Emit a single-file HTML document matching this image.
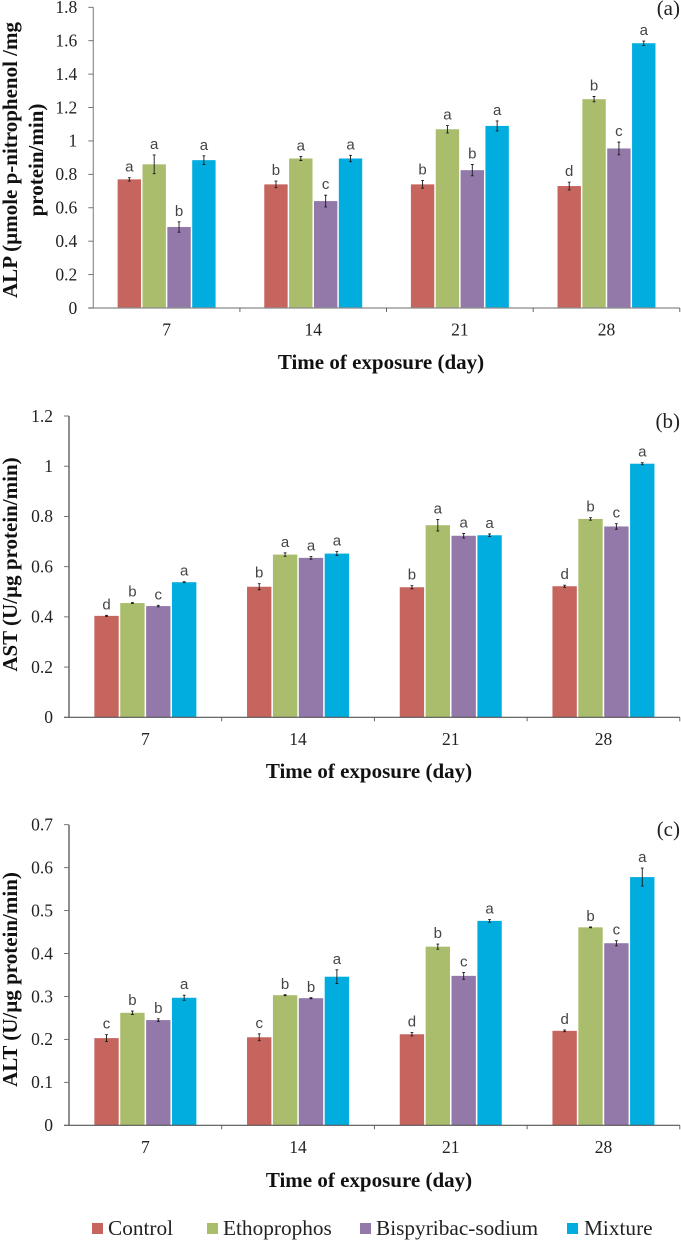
<!DOCTYPE html>
<html lang="en">
<head>
<meta charset="utf-8">
<title>Enzyme activity over time of exposure</title>
<style>
html,body{margin:0;padding:0;background:#fff;}
#stage{display:block;width:681px;height:1241px;}
text{font-family:"Liberation Serif",serif;fill:#222;}
.tick{font-size:17.5px;}
.axis-title{font-size:21px;font-weight:bold;fill:#111;}
.letter{font-family:"Liberation Sans",sans-serif;font-size:15px;fill:#444;text-anchor:middle;}
.panel{font-size:21px;}
.legend{font-size:21.3px;fill:#222;}
</style>
</head>
<body>
<svg id="stage" width="681" height="1241" viewBox="0 0 681 1241" xmlns="http://www.w3.org/2000/svg">
  <g id="chart-a"></g>
  <g id="chart-b"></g>
  <g id="chart-c"></g>

  <text class="axis-title" transform="translate(17,160) rotate(-90)" text-anchor="middle">ALP (µmole p-nitrophenol /mg</text>
  <text class="axis-title" transform="translate(43,160) rotate(-90)" text-anchor="middle">protein/min)</text>
  <text class="axis-title" x="381" y="369" text-anchor="middle">Time of exposure (day)</text>
  <text class="panel" x="680" y="15" text-anchor="end">(a)</text>

  <text class="axis-title" transform="translate(17,564.5) rotate(-90)" text-anchor="middle">AST (U/µg protein/min)</text>
  <text class="axis-title" x="369" y="778" text-anchor="middle">Time of exposure (day)</text>
  <text class="panel" x="680" y="428" text-anchor="end">(b)</text>

  <text class="axis-title" transform="translate(17,979.5) rotate(-90)" text-anchor="middle">ALT (U/µg protein/min)</text>
  <text class="axis-title" x="369" y="1187" text-anchor="middle">Time of exposure (day)</text>
  <text class="panel" x="680" y="836" text-anchor="end">(c)</text>

  <g>
    <rect x="92" y="1223" width="11" height="11" fill="#C6645E"/>
    <text class="legend" x="108" y="1235">Control</text>
    <rect x="207" y="1223" width="11" height="11" fill="#AABD6C"/>
    <text class="legend" x="223" y="1235">Ethoprophos</text>
    <rect x="360" y="1223" width="11" height="11" fill="#9279AA"/>
    <text class="legend" x="376" y="1235">Bispyribac-sodium</text>
    <rect x="567" y="1223" width="11" height="11" fill="#00ADDE"/>
    <text class="legend" x="584" y="1235">Mixture</text>
  </g>
</svg>
<script>
var categories = ['7', '14', '21', '28'];
var seriesNames = ['control', 'ethoprophos', 'bispyribac-sodium', 'mixture'];
var seriesColors = ['#C6645E', '#AABD6C', '#9279AA', '#00ADDE'];

var alpTicks = [0, 0.2, 0.4, 0.6, 0.8, 1, 1.2, 1.4, 1.6, 1.8];
var alpControl = [0.77, 0.74, 0.74, 0.73];
var alpEthoprophos = [0.86, 0.895, 1.07, 1.25];
var alpBispyribac = [0.485, 0.64, 0.825, 0.955];
var alpMixture = [0.885, 0.895, 1.09, 1.585];
var alpControlErr = [0.01, 0.02, 0.023, 0.023];
var alpEthoprophosErr = [0.056, 0.012, 0.022, 0.016];
var alpBispyribacErr = [0.031, 0.035, 0.034, 0.038];
var alpMixtureErr = [0.026, 0.019, 0.03, 0.013];
var alpControlLetters = ['a', 'b', 'b', 'd'];
var alpEthoprophosLetters = ['a', 'a', 'a', 'b'];
var alpBispyribacLetters = ['b', 'c', 'b', 'c'];
var alpMixtureLetters = ['a', 'a', 'a', 'a'];

var astTicks = [0, 0.2, 0.4, 0.6, 0.8, 1, 1.2];
var astControl = [0.404, 0.52, 0.518, 0.522];
var astEthoprophos = [0.455, 0.648, 0.765, 0.79];
var astBispyribac = [0.443, 0.635, 0.723, 0.76];
var astMixture = [0.538, 0.652, 0.725, 1.01];
var astControlErr = [0.002, 0.012, 0.006, 0.004];
var astEthoprophosErr = [0.002, 0.007, 0.023, 0.005];
var astBispyribacErr = [0.003, 0.005, 0.009, 0.011];
var astMixtureErr = [0.002, 0.008, 0.005, 0.004];
var astControlLetters = ['d', 'b', 'b', 'd'];
var astEthoprophosLetters = ['b', 'a', 'a', 'b'];
var astBispyribacLetters = ['c', 'a', 'a', 'c'];
var astMixtureLetters = ['a', 'a', 'a', 'a'];

var altTicks = [0, 0.1, 0.2, 0.3, 0.4, 0.5, 0.6, 0.7];
var altControl = [0.203, 0.205, 0.212, 0.22];
var altEthoprophos = [0.262, 0.303, 0.416, 0.461];
var altBispyribac = [0.245, 0.296, 0.348, 0.424];
var altMixture = [0.297, 0.346, 0.476, 0.578];
var altControlErr = [0.008, 0.008, 0.004, 0.002];
var altEthoprophosErr = [0.004, 0.001, 0.006, 0.001];
var altBispyribacErr = [0.003, 0.001, 0.008, 0.006];
var altMixtureErr = [0.006, 0.016, 0.003, 0.021];
var altControlLetters = ['c', 'c', 'd', 'd'];
var altEthoprophosLetters = ['b', 'b', 'b', 'b'];
var altBispyribacLetters = ['b', 'b', 'c', 'c'];
var altMixtureLetters = ['a', 'a', 'a', 'a'];

var NS = 'http://www.w3.org/2000/svg';

function make(parent, tag, attrs, txt) {
  var el = document.createElementNS(NS, tag);
  for (var k in attrs) { el.setAttribute(k, attrs[k]); }
  if (txt !== undefined) { el.textContent = txt; }
  parent.appendChild(el);
  return el;
}

function drawChart(opts) {
  var root = document.getElementById(opts.id);
  var left = opts.left, right = opts.right, top = opts.top, bottom = opts.bottom;
  var tickVals = opts.ticks;
  var maxV = tickVals[tickVals.length - 1];
  function yScale(v) { return bottom - (v / maxV) * (bottom - top); }
  var band = (right - left) / categories.length;
  function xBand(i) { return left + (i + 0.5) * band; }
  var step = band * 0.1695;
  var barW = band * 0.1595;
  function xBar(c, s) { return xBand(c) + (s - 1.5) * step; }

  for (var s = 0; s < seriesNames.length; s++) {
    var seriesGroup = make(root, 'g', {});
    
    
    var vals = opts.values[s], errs = opts.errors[s], lets = opts.letters[s];
    for (var c = 0; c < categories.length; c++) {
      var cx = xBar(c, s);
      var yTop = yScale(vals[c]);
      var bar = make(seriesGroup, 'rect', {
        x: cx - barW / 2, y: yTop, width: barW, height: bottom - yTop, fill: seriesColors[s]
      });
      
      

      var yHi = yScale(vals[c] + errs[c]);
      var yLo = yScale(vals[c] - errs[c]);
      var errD = 'M' + (cx - 1.4) + ' ' + yHi + 'H' + (cx + 1.4) +
                 'M' + cx + ' ' + yHi + 'V' + yLo +
                 'M' + (cx - 1.4) + ' ' + yLo + 'H' + (cx + 1.4);
      var err = make(seriesGroup, 'path', { d: errD, stroke: '#1a1a1a', 'stroke-width': 0.9, fill: 'none' });
      
      

      var letter = make(seriesGroup, 'text', { 'class': 'letter', x: cx, y: yHi - 6 }, lets[c]);
      
      
    }
  }

  var yAxis = make(root, 'line', { x1: left, x2: left, y1: top, y2: bottom, stroke: '#8f8f8f', 'stroke-width': opts.yAxisWidth });
  
  
  var xAxis = make(root, 'line', { x1: left - 5, x2: right, y1: bottom, y2: bottom, stroke: opts.xAxisColor, 'stroke-width': 1.2 });
  
  

  for (var t = 0; t < tickVals.length; t++) {
    var ty = yScale(tickVals[t]);
    var ytick = make(root, 'line', { x1: left - 5, x2: left, y1: ty, y2: ty, stroke: '#666', 'stroke-width': 0.9 });
    
    
    var ylabel = make(root, 'text', { 'class': 'tick', x: left - 16, y: ty + 5.8, 'text-anchor': 'end' }, String(tickVals[t]));
    
    
  }

  for (var m = 0; m <= categories.length; m++) {
    var mx = left + m * band;
    if (m > 0) {
      var xtick = make(root, 'line', { x1: mx, x2: mx, y1: bottom, y2: bottom + 4, stroke: '#555', 'stroke-width': 0.9 });
      
      
    }
  }
  for (var q = 0; q < categories.length; q++) {
    var xlabel = make(root, 'text', { 'class': 'tick', x: xBand(q), y: bottom + 27.5, 'text-anchor': 'middle' }, categories[q]);
    
    
  }
}

drawChart({
  id: 'chart-a', left: 93.3, right: 679.8, top: 7.3, bottom: 308, ticks: alpTicks,
  yAxisWidth: 1.2, xAxisColor: '#8a8a8a',
  values: [alpControl, alpEthoprophos, alpBispyribac, alpMixture],
  errors: [alpControlErr, alpEthoprophosErr, alpBispyribacErr, alpMixtureErr],
  letters: [alpControlLetters, alpEthoprophosLetters, alpBispyribacLetters, alpMixtureLetters]
});
drawChart({
  id: 'chart-b', left: 69, right: 679.8, top: 416, bottom: 717.3, ticks: astTicks,
  yAxisWidth: 2, xAxisColor: '#555',
  values: [astControl, astEthoprophos, astBispyribac, astMixture],
  errors: [astControlErr, astEthoprophosErr, astBispyribacErr, astMixtureErr],
  letters: [astControlLetters, astEthoprophosLetters, astBispyribacLetters, astMixtureLetters]
});
drawChart({
  id: 'chart-c', left: 69, right: 679.8, top: 824.7, bottom: 1125.3, ticks: altTicks,
  yAxisWidth: 2, xAxisColor: '#555',
  values: [altControl, altEthoprophos, altBispyribac, altMixture],
  errors: [altControlErr, altEthoprophosErr, altBispyribacErr, altMixtureErr],
  letters: [altControlLetters, altEthoprophosLetters, altBispyribacLetters, altMixtureLetters]
});
</script>
</body>
</html>
